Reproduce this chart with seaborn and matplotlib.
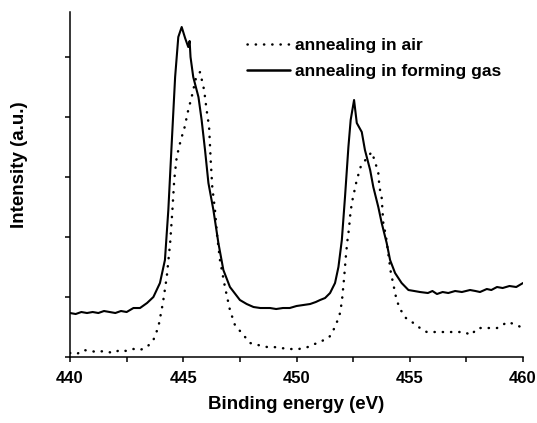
import numpy as np
import pandas as pd
import matplotlib
matplotlib.use('Agg')
import matplotlib.pyplot as plt
import seaborn as sns

# annealing in forming gas (solid line)
gas_energy = [440.0, 440.25, 440.5, 440.75, 441.0, 441.25, 441.5, 441.75, 442.0, 442.25, 442.5,
              442.8, 443.09, 443.4, 443.68, 443.97, 444.19, 444.34, 444.49, 444.64, 444.78,
              444.93, 445.08, 445.22, 445.28, 445.32, 445.44, 445.67, 445.81, 445.96, 446.11,
              446.33, 446.55, 446.77, 447.06, 447.5, 447.8, 448.1, 448.4, 448.83, 449.1, 449.4,
              449.7, 450.0, 450.3, 450.6, 450.85, 451.04, 451.26, 451.48, 451.7, 451.85, 452.0,
              452.14, 452.29, 452.39, 452.54, 452.66, 452.88, 453.02, 453.25, 453.39, 453.61,
              453.76, 453.98, 454.13, 454.35, 454.64, 454.94, 455.2, 455.45, 455.8, 456.0,
              456.2, 456.45, 456.7, 457.0, 457.3, 457.66, 457.9, 458.1, 458.4, 458.6, 458.85,
              459.1, 459.4, 459.7, 459.85, 460.0]
gas_intensity = [44, 43, 45, 44, 45, 44, 46, 45, 44, 46, 45,
                 49, 49, 54, 60, 74, 97, 147, 214, 280, 320,
                 330, 319, 310, 316, 300, 280, 260, 237, 207, 174,
                 147, 114, 87, 70, 57, 53, 50, 49, 49, 48, 49,
                 49, 51, 52, 53, 55, 57, 59, 64, 74, 90, 117,
                 160, 210, 237, 257, 234, 225, 207, 187, 170, 150,
                 134, 114, 97, 84, 74, 67, 66, 65, 64, 66,
                 63, 65, 64, 66, 65, 67, 66, 65, 68, 67, 70,
                 69, 71, 70, 72, 74]

# annealing in air (dotted line)
air_energy = [440.0, 440.3, 440.6, 440.9, 441.2, 441.5, 441.9, 442.2, 442.5, 442.8, 443.09,
              443.4, 443.68, 443.9, 444.1, 444.27, 444.42, 444.52, 444.6, 444.71, 444.89,
              445.05, 445.22, 445.37, 445.56, 445.74, 445.92, 446.03, 446.14, 446.21, 446.28,
              446.4, 446.5, 446.62, 446.84, 447.06, 447.28, 447.58, 447.95, 448.3, 448.7,
              449.0, 449.3, 449.7, 450.1, 450.5, 450.8, 451.04, 451.45, 451.7, 451.9, 452.0,
              452.1, 452.19, 452.25, 452.32, 452.36, 452.44, 452.66, 452.83, 453.1, 453.32,
              453.47, 453.61, 453.66, 453.76, 453.83, 453.94, 454.16, 454.39, 454.54, 454.83,
              455.16, 455.45, 455.75, 456.2, 456.8, 457.4, 457.7, 458.0, 458.4, 458.85, 459.1,
              459.3, 459.6, 459.9, 460.0]
air_intensity = [4, 3, 7, 6, 5, 6, 4, 7, 6, 8, 7,
                 10, 17, 30, 54, 80, 114, 147, 177, 200, 217,
                 229, 247, 260, 279, 285, 267, 247, 230, 197, 170,
                 147, 120, 97, 70, 47, 32, 24, 14, 12, 10,
                 10, 9, 8, 8, 10, 13, 15, 20, 30, 42, 55,
                 79, 104, 117, 129, 140, 154, 177, 190, 199, 205,
                 195, 184, 170, 159, 134, 122, 85, 60, 49, 39,
                 34, 29, 25, 25, 25, 25, 22, 29, 29, 29, 32,
                 35, 33, 30, 27]

df = pd.concat([
    pd.DataFrame({'energy': air_energy, 'intensity': air_intensity, 'sample': 'annealing in air'}),
    pd.DataFrame({'energy': gas_energy, 'intensity': gas_intensity, 'sample': 'annealing in forming gas'}),
])

sns.set_style('ticks')
plt.rcParams['font.family'] = ['Liberation Sans', 'DejaVu Sans']
plt.rcParams['text.color'] = 'black'
plt.rcParams['axes.labelcolor'] = 'black'
plt.rcParams['xtick.color'] = 'black'
plt.rcParams['ytick.color'] = 'black'

fig = plt.figure(figsize=(5.37, 4.23), dpi=100)
ax = fig.add_axes([0.1304, 0.156, 0.8436, 0.8156])

sns.lineplot(data=df, x='energy', y='intensity', hue='sample', style='sample',
             palette=['black', 'black'], dashes=[(0.1, 3.2), ''], linewidth=1.8,
             ax=ax, sort=False)
for line in ax.get_lines():
    line.set_dash_capstyle('round')
ax.get_lines()[1].set_linewidth(1.5)

ax.set_xlim(440, 460)
ax.set_ylim(0, 345)
ax.set_xticks([440, 445, 450, 455, 460])
ax.set_xticks([442.5, 447.5, 452.5, 457.5], minor=True)
ax.set_yticks([0, 60, 120, 180, 240, 300])
ax.set_yticklabels([])
ax.tick_params(axis='both', which='both', direction='out', color='black', labelcolor='black',
               width=1.1, length=3.5)
ax.tick_params(axis='x', which='major', labelsize=12, pad=6.5)
for lab in ax.get_xticklabels():
    lab.set_fontweight('bold')

ax.set_xlabel('Binding energy (eV)', fontsize=13.5, fontweight='bold', labelpad=7, color='black')
ax.set_ylabel('Intensity (a.u.)', fontsize=13.5, fontweight='bold', labelpad=23, y=0.557,
              color='black')
sns.despine(ax=ax)
for sp in ['left', 'bottom']:
    ax.spines[sp].set_linewidth(1.1)
    ax.spines[sp].set_color('black')

leg = ax.legend(loc='upper left', bbox_to_anchor=(0.39, 0.924), frameon=False,
                borderpad=0, borderaxespad=0,
                handlelength=2.5, handletextpad=0.3, labelspacing=0.6,
                prop={'weight': 'bold', 'size': 12.5})
for h in leg.get_lines():
    h.set_color('black')
for t in leg.get_texts():
    t.set_color('black')

fig.savefig('out.png', dpi=100)
